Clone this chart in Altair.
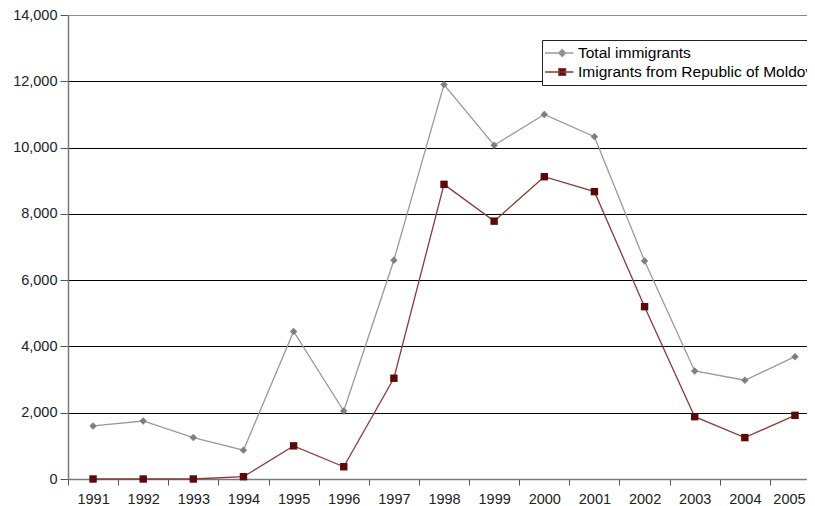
import altair as alt
import pandas as pd

years = [1991, 1992, 1993, 1994, 1995, 1996, 1997, 1998, 1999, 2000, 2001, 2002, 2003, 2004, 2005]
total_immigrants = [1600, 1750, 1250, 870, 4450, 2050, 6600, 11900, 10070, 11000, 10330, 6580, 3260, 2980, 3690]
moldova_immigrants = [0, 0, 0, 70, 1000, 370, 3040, 8890, 7780, 9120, 8670, 5200, 1880, 1250, 1920]
series_names = ["Total immigrants", "Imigrants from Republic of Moldova"]
y_ticks = [0, 2000, 4000, 6000, 8000, 10000, 12000, 14000]
x_tick_marks = [y - 0.5 for y in years]
# last year label nudged slightly left so it stays inside the page edge (formatted as "2005")
x_label_values = years[:-1] + [2004.88]

rows = []
for yr, t, m in zip(years, total_immigrants, moldova_immigrants):
    rows.append({"year": yr, "series": series_names[0], "value": t})
    rows.append({"year": yr, "series": series_names[1], "value": m})
df = pd.DataFrame(rows)

FONT = "Liberation Sans"
LINE_COLORS = ["#9a9a9a", "#8b3a3a"]
MARK_COLORS = ["#7f7f7f", "#5a0a0a"]
x_scale = alt.Scale(domain=[1990.5, 2005.24], nice=False, zero=False)
y_scale = alt.Scale(domain=[0, 14000], nice=False)
stroke_scale = alt.Scale(domain=series_names, range=LINE_COLORS)

path_total = "M-1.25,0L2.3,0M0.9,-0.45L1.35,0L0.9,0.45L0.45,0Z"
path_mold = "M-1.25,0L2.3,0M0.47,-0.42L1.33,-0.42L1.33,0.42L0.47,0.42Z"

legend = alt.Legend(
    title=None, orient="none", legendX=474, legendY=25,
    strokeColor="#222222", fillColor="#ffffff", padding=4, rowPadding=1,
    symbolSize=256, labelOffset=14, labelFontSize=15.5, labelFont=FONT,
    labelColor="#000000", labelLimit=500, symbolStrokeWidth=1.3, symbolOpacity=1,
)

y_enc = alt.Y("value:Q", scale=y_scale,
              axis=alt.Axis(values=y_ticks, format=",d", grid=True, title=None,
                            gridColor={"condition": {"test": "datum.value === 14000", "value": "#8a8a8a"},
                                       "value": "#000000"}))

lines = alt.Chart(df).mark_line(strokeWidth=1.3).encode(
    x=alt.X("year:Q", scale=x_scale,
            axis=alt.Axis(values=x_tick_marks, labels=False, ticks=True, tickSize=6,
                          domain=True, grid=False, title=None, orient="bottom")),
    y=y_enc,
    stroke=alt.Stroke("series:N", scale=stroke_scale, legend=legend),
)

pts_total = alt.Chart(df).transform_filter(
    alt.datum.series == series_names[0]
).mark_point(shape="diamond", filled=True, size=55, color=MARK_COLORS[0], opacity=1).encode(
    x=alt.X("year:Q", scale=x_scale,
            axis=alt.Axis(values=x_label_values, format="d", ticks=False, tickSize=0, domain=False,
                          grid=False, labelPadding=13, title=None, orient="bottom")),
    y=y_enc,
)

pts_mold = alt.Chart(df).transform_filter(
    alt.datum.series == series_names[1]
).mark_square(size=55, color=MARK_COLORS[1], opacity=1).encode(
    x=alt.X("year:Q", scale=x_scale, axis=None),
    y=y_enc,
)

legend_layer = alt.Chart(df).mark_point(
    filled=True, size=10, strokeWidth=1.3, opacity=0
).encode(
    x=alt.X("year:Q", scale=x_scale, axis=None),
    y=y_enc,
    shape=alt.Shape("series:N", scale=alt.Scale(domain=series_names, range=[path_total, path_mold]),
                    legend=legend),
    fill=alt.Fill("series:N", scale=alt.Scale(domain=series_names, range=MARK_COLORS), legend=legend),
    stroke=alt.Stroke("series:N", scale=stroke_scale, legend=legend),
)

chart = alt.layer(lines, pts_total, pts_mold, legend_layer).resolve_axis(x="independent").properties(
    width=739, height=464,
    autosize=alt.AutoSizeParams(type="none"),
    padding={"left": 60, "top": 7, "right": 0, "bottom": 27},
    background="#ffffff",
).configure_view(stroke=None).configure_axis(
    labelFont=FONT, labelFontSize=14.5, labelColor="#222222",
    domainColor="#7a7a7a", domainWidth=1.5, tickColor="#555555",
).configure_axisY(
    gridWidth=1, gridOpacity=1, tickSize=8, labelPadding=3,
)

chart.save("out.html", embed_options={"renderer": "svg", "actions": False})
